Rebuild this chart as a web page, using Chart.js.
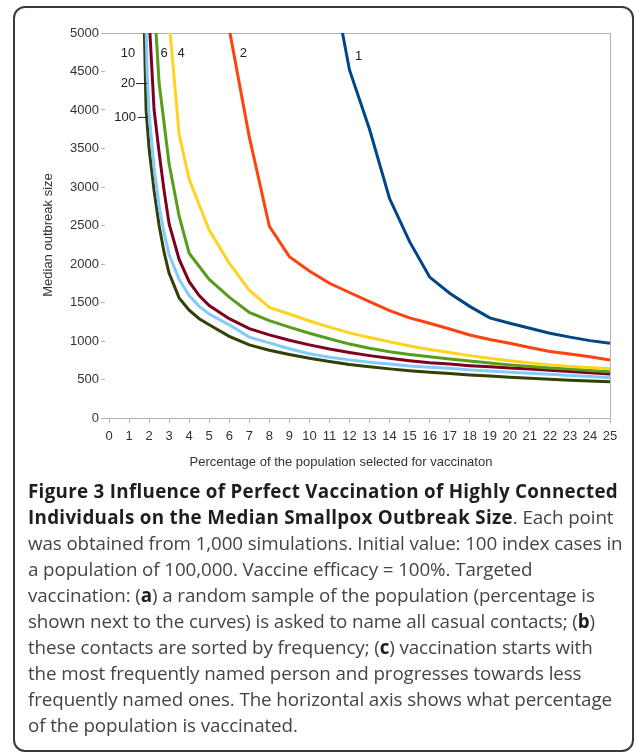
<!DOCTYPE html>
<html>
<head>
<meta charset="utf-8">
<script src="https://cdn.jsdelivr.net/npm/chart.js@4.4.0/dist/chart.umd.min.js"></script>
<style>
  html, body { margin: 0; padding: 0; background: #fff; }
  body { width: 635px; height: 752px; position: relative; overflow: hidden; font-family: "Liberation Sans", Arial, sans-serif; }
  #frame { position: absolute; left: 13px; top: 6px; width: 621px; height: 746px; border: 2px solid #3a3a3a; border-radius: 12px; box-sizing: border-box; }
  #chart { position: absolute; left: 0; top: 0; }
  #caption { position: absolute; left: 28px; top: 478px; font-family: "Open Sans", sans-serif; font-size: 18.8px; line-height: 26px; color: #444; white-space: nowrap; letter-spacing: -0.1px; }
  #caption b { color: #1e1e1e; font-weight: 700; letter-spacing: 0.3px; }
  #caption b.s { letter-spacing: -0.1px; }
</style>
</head>
<body>
<div id="frame"></div>
<canvas id="chart" width="635" height="480"></canvas>
<div id="caption">
<b>Figure 3 Influence of Perfect Vaccination of Highly Connected</b><br>
<b>Individuals on the Median Smallpox Outbreak Size</b>. Each point<br>
was obtained from 1,000 simulations. Initial value: 100 index cases in<br>
a population of 100,000. Vaccine efficacy = 100%. Targeted<br>
vaccination: (<b class="s">a</b>) a random sample of the population (percentage is<br>
shown next to the curves) is asked to name all casual contacts; (<b class="s">b</b>)<br>
these contacts are sorted by frequency; (<b class="s">c</b>) vaccination starts with<br>
the most frequently named person and progresses towards less<br>
frequently named ones. The horizontal axis shows what percentage<br>
of the population is vaccinated.
</div>
<script>
// ---- Data ----
const xTickValues = [0,1,2,3,4,5,6,7,8,9,10,11,12,13,14,15,16,17,18,19,20,21,22,23,24,25];
const yTickValues = [0,500,1000,1500,2000,2500,3000,3500,4000,4500,5000];

const seriesNames = ["1", "2", "4", "6", "10", "20", "100"];

const x1 = [11,12,13,14,15,16,17,18,19,20,21,22,23,24,25];
const y1 = [5900,4520,3750,2850,2290,1830,1620,1450,1300,1230,1165,1100,1050,1005,970];

const x2 = [6,7,8,9,10,11,12,13,14,15,16,17,18,19,20,21,22,23,24,25];
const y2 = [5050,3650,2490,2095,1910,1750,1630,1510,1395,1300,1230,1155,1078,1020,970,915,865,830,795,753];

const x4 = [3,3.5,4,5,6,7,8,9,10,11,12,13,14,15,16,17,18,19,20,21,22,23,24,25];
const y4 = [5150,3680,3100,2440,2010,1660,1435,1350,1260,1180,1105,1045,990,935,890,850,810,775,745,715,690,670,655,640];

const x6 = [2,2.5,3,3.5,4,5,6,7,8,9,10,11,12,13,14,15,16,17,18,19,20,21,22,23,24,25];
const y6 = [6500,4350,3300,2620,2140,1800,1570,1370,1265,1180,1100,1030,960,905,860,825,795,765,740,715,690,670,650,635,618,602];

const x10 = [2,2.25,2.5,2.75,3,3.5,4,4.5,5,6,7,8,9,10,11,12,13,14,15,16,17,18,19,20,21,22,23,24,25];
const y10 = [5200,4000,3450,2950,2520,2060,1770,1590,1460,1290,1160,1080,1010,950,895,850,810,775,745,718,700,680,665,650,635,620,603,588,572];

const x20 = [1.8,1.9,2,2.25,2.5,2.75,3,3.5,4,4.5,5,6,7,8,9,10,11,12,13,14,15,16,17,18,19,20,21,22,23,24,25];
const y20 = [5600,4500,3950,3250,2750,2400,2120,1800,1590,1450,1350,1210,1050,975,900,835,790,755,725,700,675,660,645,625,610,595,582,567,552,538,524];

const x100 = [1.75,1.85,2,2.25,2.5,2.75,3,3.5,4,4.5,5,6,7,8,9,10,11,12,13,14,15,16,17,18,19,20,21,22,23,24,25];
const y100 = [5200,4000,3500,2950,2500,2150,1880,1560,1400,1290,1210,1060,950,880,825,775,735,695,665,638,615,595,578,560,545,530,515,502,490,480,471];

const seriesX = [x1, x2, x4, x6, x10, x20, x100];
const seriesY = [y1, y2, y4, y6, y10, y20, y100];
const seriesColors = ["#004586", "#ff420e", "#ffd320", "#579d1c", "#7e0021", "#83caff", "#314004"];

// Curve labels (text, data x, data y) and leader lines
const curveLabels = [
  {text: "10", x: 0.95, y: 4740},
  {text: "6", x: 2.75, y: 4740},
  {text: "4", x: 3.6, y: 4740},
  {text: "2", x: 6.7, y: 4740},
  {text: "1", x: 12.45, y: 4700},
  {text: "20", x: 0.95, y: 4350, lineFrom: 1.35, lineTo: 1.9},
  {text: "100", x: 0.8, y: 3910, lineFrom: 1.43, lineTo: 1.92}
];

const xTitle = "Percentage of the population selected for vaccinaton";
const yTitle = "Median outbreak size";

// ---- Chart ----
const datasets = seriesNames.map((name, i) => ({
  label: name,
  data: seriesX[i].map((xv, j) => ({x: xv, y: seriesY[i][j]})),
  borderColor: seriesColors[i],
  backgroundColor: seriesColors[i],
  borderWidth: 3,
  pointRadius: 0,
  tension: 0,
  fill: false
}));

const FONT = "'Liberation Sans', Arial, sans-serif";
const GRAY = "#b3b3b3";

const overlay = {
  id: "overlay",
  afterDraw(chart) {
    const ctx = chart.ctx;
    const xs = chart.scales.x, ys = chart.scales.y;
    ctx.save();
    ctx.fillStyle = "#222";
    ctx.strokeStyle = "#222";
    ctx.lineWidth = 1;
    ctx.font = "13px " + FONT;
    ctx.textBaseline = "middle";
    curveLabels.forEach(l => {
      const px = xs.getPixelForValue(l.x), py = ys.getPixelForValue(l.y);
      ctx.textAlign = "center";
      ctx.fillText(l.text, px, py);
      if (l.lineFrom !== undefined) {
        ctx.beginPath();
        ctx.moveTo(xs.getPixelForValue(l.lineFrom), py + 0.5);
        ctx.lineTo(xs.getPixelForValue(l.lineTo), py + 0.5);
        ctx.stroke();
      }
    });
    // axis titles
    ctx.fillStyle = "#333";
    ctx.textAlign = "center";
    ctx.fillText(xTitle, 341, 462);
    ctx.translate(48, 235);
    ctx.rotate(-Math.PI / 2);
    ctx.fillText(yTitle, 0, 0);
    ctx.restore();
  }
};

new Chart(document.getElementById("chart"), {
  type: "line",
  data: { datasets },
  options: {
    responsive: false,
    animation: false,
    devicePixelRatio: 1,
    layout: { padding: { left: 0, right: 25, top: 33, bottom: 0 } },
    plugins: { legend: { display: false }, tooltip: { enabled: false } },
    scales: {
      x: {
        type: "linear",
        min: -0.2,
        max: 25,
        afterBuildTicks: axis => { axis.ticks = xTickValues.map(v => ({value: v})); },
        afterFit: s => { s.height = 62; },
        ticks: { autoSkip: false, maxRotation: 0, padding: 6, color: "#333", font: { family: FONT, size: 13 }, callback: v => String(v) },
        grid: {
          color: c => (c.tick && c.tick.value === 25) ? GRAY : "rgba(0,0,0,0)",
          tickColor: GRAY, tickLength: 5, lineWidth: 1
        },
        border: { display: true, color: GRAY, width: 1 }
      },
      y: {
        min: 0,
        max: 5000,
        afterBuildTicks: axis => { axis.ticks = yTickValues.map(v => ({value: v})); },
        afterFit: s => { s.width = 105; },
        ticks: { padding: 2, color: "#333", font: { family: FONT, size: 13 }, callback: v => String(v) },
        grid: {
          color: c => (c.tick && c.tick.value === 5000) ? GRAY : "rgba(0,0,0,0)",
          tickColor: GRAY, tickLength: 4, lineWidth: 1
        },
        border: { display: false }
      }
    }
  },
  plugins: [overlay]
});
</script>
</body>
</html>
